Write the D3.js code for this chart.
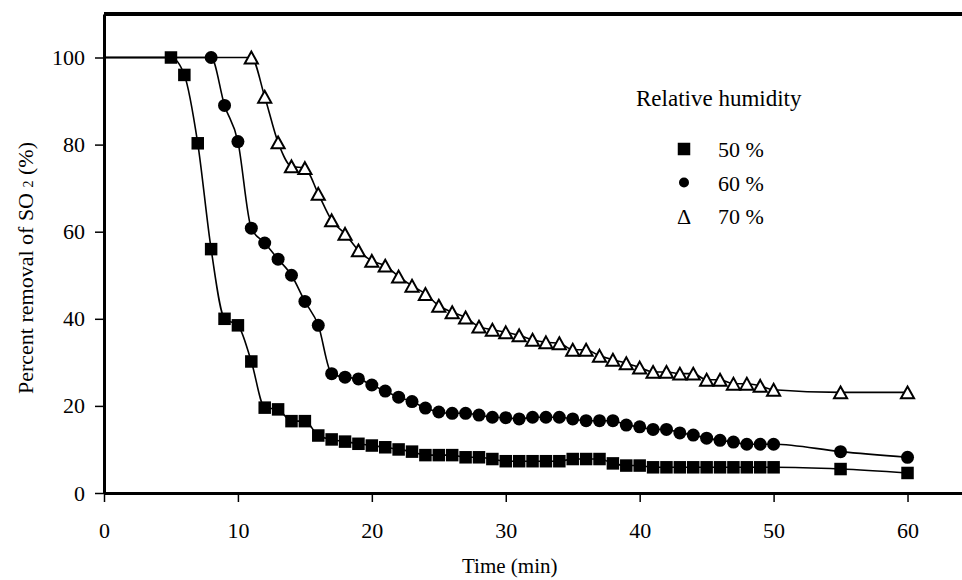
<!DOCTYPE html>
<html>
<head>
<meta charset="utf-8">
<script src="https://cdn.jsdelivr.net/npm/d3@7"></script>
<style>
  body { margin: 0; background: #fff; }
  svg text { font-family: "Liberation Serif", "Times New Roman", serif; fill: #000; }
</style>
</head>
<body>
<svg id="chart" width="962" height="580"></svg>
<script>
// every run starts from 100 % removal at t = 0
const startTime = 0, startRemoval = 100;

// 50 % relative humidity
const time50 = [5, 6, 7, 8, 9, 10, 11, 12, 13, 14, 15, 16, 17, 18, 19, 20, 21, 22, 23, 24, 25, 26, 27, 28, 29, 30,
  31, 32, 33, 34, 35, 36, 37, 38, 39, 40, 41, 42, 43, 44, 45, 46, 47, 48, 49, 50, 55, 60];
const removal50 = [100, 96, 80.3, 56, 40, 38.5, 30.2, 19.6, 19.2, 16.5, 16.5, 13.2, 12.3, 11.8, 11.3, 10.9, 10.5, 10.0,
  9.5, 8.7, 8.7, 8.7, 8.2, 8.2, 7.8, 7.3, 7.3, 7.3, 7.3, 7.3, 7.8, 7.8, 7.8, 6.8, 6.3, 6.3, 5.9, 5.9, 5.9, 5.9, 5.9,
  5.9, 5.9, 5.9, 5.9, 5.9, 5.5, 4.6];

// 60 % relative humidity
const time60 = [8, 9, 10, 11, 12, 13, 14, 15, 16, 17, 18, 19, 20, 21, 22, 23, 24, 25, 26, 27, 28, 29, 30,
  31, 32, 33, 34, 35, 36, 37, 38, 39, 40, 41, 42, 43, 44, 45, 46, 47, 48, 49, 50, 55, 60];
const removal60 = [100, 89, 80.7, 60.8, 57.4, 53.7, 50, 44, 38.5, 27.4, 26.6, 26.2, 24.8, 23.4, 22.0, 21.0, 19.5, 18.6,
  18.3, 18.3, 17.9, 17.4, 17.3, 17.0, 17.4, 17.4, 17.4, 17.0, 16.6, 16.6, 16.6, 15.6, 15.2, 14.6, 14.6, 13.8, 13.3,
  12.6, 12.1, 11.7, 11.2, 11.2, 11.2, 9.5, 8.2];

// 70 % relative humidity
const time70 = [11, 12, 13, 14, 15, 16, 17, 18, 19, 20, 21, 22, 23, 24, 25, 26, 27, 28, 29, 30,
  31, 32, 33, 34, 35, 36, 37, 38, 39, 40, 41, 42, 43, 44, 45, 46, 47, 48, 49, 50, 55, 60];
const removal70 = [100, 91, 80.5, 75, 74.6, 68.7, 62.6, 59.5, 55.7, 53.3, 52.2, 49.7, 47.6, 45.7, 43, 41.5, 40.3, 38.2,
  37.5, 36.9, 36.2, 35.2, 34.6, 34.4, 32.9, 32.9, 31.5, 30.6, 29.8, 28.8, 27.8, 27.8, 27.4, 27.4, 26.0, 26.0, 25.1,
  25.1, 24.6, 23.7, 23.1, 23.1];

const seriesNames = ["50 %", "60 %", "70 %"];
const xTicks = [0, 10, 20, 30, 40, 50, 60];
const yTicks = [0, 20, 40, 60, 80, 100];

const serif = "'Liberation Serif', 'Times New Roman', serif";
const svg = d3.select("#chart");

const x = d3.scaleLinear().domain([0, 65]).range([104, 104 + 65 * 13.392]);
const y = d3.scaleLinear().domain([0, 110]).range([493, 493 - 110 * 4.355]);

const series = [
  { name: seriesNames[0], shape: "square", pts: time50.map((t, i) => [t, removal50[i]]) },
  { name: seriesNames[1], shape: "circle", pts: time60.map((t, i) => [t, removal60[i]]) },
  { name: seriesNames[2], shape: "triangle", pts: time70.map((t, i) => [t, removal70[i]]) }
];

// top frame line
svg.append("line")
  .attr("x1", x(0)).attr("x2", x(65))
  .attr("y1", y(110)).attr("y2", y(110))
  .attr("stroke", "#000").attr("stroke-width", 4);

// smoothed lines (monotone so the 100 % plateau stays flat)
const line = d3.line()
  .x(d => x(d[0])).y(d => y(d[1]))
  .curve(d3.curveMonotoneX);

svg.selectAll(".curve")
  .data(series)
  .enter().append("path")
  .attr("class", "curve")
  .attr("d", s => line([[startTime, startRemoval]].concat(s.pts)))
  .attr("fill", "none")
  .attr("stroke", "#000")
  .attr("stroke-width", 1.6);

// axes
const yAxis = svg.append("g")
  .attr("transform", `translate(${x(0)},0)`)
  .call(d3.axisLeft(y).tickValues(yTicks).tickSize(9).tickSizeOuter(0).tickPadding(10));
const xAxis = svg.append("g")
  .attr("transform", `translate(0,${y(0)})`)
  .call(d3.axisBottom(x).tickValues(xTicks).tickSize(9).tickSizeOuter(0).tickPadding(20));

[yAxis, xAxis].forEach(g => {
  g.attr("font-family", serif).attr("font-size", 22);
  g.select(".domain").attr("stroke", "#000").attr("stroke-width", 3);
  g.selectAll(".tick line").attr("stroke", "#000").attr("stroke-width", 1.5);
  g.selectAll(".tick text").attr("font-size", 22).attr("font-family", serif);
});

// markers
function drawMarker(sel, shape, size) {
  if (shape === "square") {
    sel.append("rect")
      .attr("x", -size / 2).attr("y", -size / 2)
      .attr("width", size).attr("height", size)
      .attr("fill", "#000");
  } else if (shape === "circle") {
    sel.append("circle").attr("r", size / 2).attr("fill", "#000");
  } else {
    const h = size * 0.95, w = size * 1.05;
    sel.append("path")
      .attr("d", `M0,${-h / 2}L${w / 2},${h / 2}L${-w / 2},${h / 2}Z`)
      .attr("fill", "#fff").attr("stroke", "#000").attr("stroke-width", 2)
      .attr("stroke-linejoin", "miter");
  }
}

series.forEach(s => {
  svg.append("g").selectAll("g")
    .data(s.pts)
    .enter().append("g")
    .attr("transform", d => `translate(${x(d[0])},${y(d[1])})`)
    .each(function() { drawMarker(d3.select(this), s.shape, s.shape === "circle" ? 13 : 12.5); });
});

// axis titles
svg.append("text")
  .attr("x", (x(0) + x(60)) / 2 + 4).attr("y", 573)
  .attr("text-anchor", "middle").attr("font-size", 21)
  .text("Time (min)");

const yTitle = svg.append("text")
  .attr("transform", "translate(33,268) rotate(-90)")
  .attr("text-anchor", "middle").attr("font-size", 22);
yTitle.append("tspan").text("Percent removal of SO ");
yTitle.append("tspan").attr("font-size", 14).text("2");
yTitle.append("tspan").text(" (%)");

// legend
const legend = svg.append("g");
legend.append("text")
  .attr("x", 636).attr("y", 106).attr("font-size", 23)
  .text("Relative humidity");

const legendRows = legend.selectAll(".row")
  .data(series)
  .enter().append("g")
  .attr("class", "row")
  .attr("transform", (d, i) => `translate(684,${149 + i * 33.5})`);

legendRows.each(function(s) {
  const g = d3.select(this);
  if (s.shape === "triangle") {
    g.append("text").attr("text-anchor", "middle").attr("y", 8).attr("font-size", 22).text("\u0394");
  } else {
    drawMarker(g, s.shape, s.shape === "circle" ? 10 : 12.5);
  }
  g.append("text").attr("x", 34).attr("y", 8).attr("font-size", 22).text(s.name);
});
</script>
</body>
</html>
